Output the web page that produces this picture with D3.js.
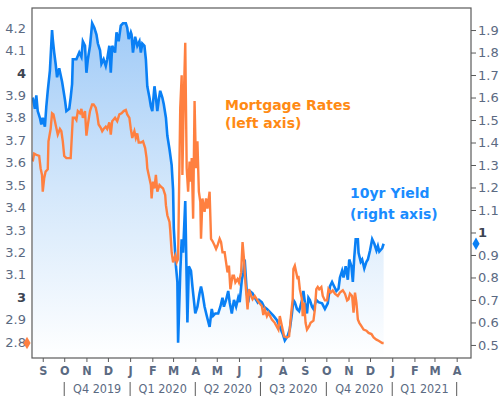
<!DOCTYPE html>
<html>
<head>
<meta charset="utf-8">
<script src="https://cdn.jsdelivr.net/npm/d3@7"></script>
<style>
  html, body { margin: 0; padding: 0; background: #fff; }
  svg { display: block; }
</style>
</head>
<body>
<div id="chart"></div>
<script>
// 10yr Treasury yield (right axis)
const yieldDates = [
  "2019-08-18","2019-08-21","2019-08-23","2019-08-25","2019-08-28","2019-08-30","2019-09-01","2019-09-04","2019-09-06","2019-09-08",
  "2019-09-11","2019-09-14","2019-09-15","2019-09-17","2019-09-19","2019-09-21","2019-09-24","2019-09-26","2019-09-28","2019-09-30",
  "2019-10-02","2019-10-04","2019-10-08","2019-10-10","2019-10-12","2019-10-13","2019-10-18","2019-10-22","2019-10-25","2019-10-27",
  "2019-10-30","2019-11-01","2019-11-03","2019-11-06","2019-11-09","2019-11-12","2019-11-15","2019-11-17","2019-11-20","2019-11-22",
  "2019-11-25","2019-11-28","2019-11-30","2019-12-03","2019-12-05","2019-12-07","2019-12-11","2019-12-13","2019-12-16","2019-12-19",
  "2019-12-22","2019-12-26","2019-12-28","2019-12-30","2020-01-02","2020-01-03","2020-01-05","2020-01-08","2020-01-11","2020-01-14",
  "2020-01-16","2020-01-18","2020-01-21","2020-01-23","2020-01-25","2020-01-28","2020-01-30","2020-02-01","2020-02-04","2020-02-06",
  "2020-02-08","2020-02-10","2020-02-12","2020-02-15","2020-02-17","2020-02-20","2020-02-22","2020-02-25","2020-02-28","2020-03-01",
  "2020-03-02","2020-03-05","2020-03-07","2020-03-08","2020-03-11","2020-03-13","2020-03-15","2020-03-18","2020-03-21","2020-03-23",
  "2020-03-26","2020-03-28","2020-03-30","2020-04-01","2020-04-04","2020-04-07","2020-04-09","2020-04-11","2020-04-14","2020-04-17",
  "2020-04-21","2020-04-24","2020-04-26","2020-04-29","2020-05-03","2020-05-06","2020-05-09","2020-05-11","2020-05-14","2020-05-17",
  "2020-05-19","2020-05-22","2020-05-25","2020-05-28","2020-05-31","2020-06-02","2020-06-05","2020-06-07","2020-06-09","2020-06-12",
  "2020-06-14","2020-06-16","2020-06-20","2020-06-23","2020-06-27","2020-06-29","2020-07-03","2020-07-06","2020-07-10","2020-07-13",
  "2020-07-19","2020-07-24","2020-07-28","2020-08-01","2020-08-04","2020-08-08","2020-08-11","2020-08-14","2020-08-16","2020-08-18",
  "2020-08-21","2020-08-24","2020-08-28","2020-08-30","2020-09-01","2020-09-04","2020-09-06","2020-09-08","2020-09-11","2020-09-13",
  "2020-09-17","2020-09-20","2020-09-25","2020-09-29","2020-10-03","2020-10-06","2020-10-09","2020-10-12","2020-10-15","2020-10-18",
  "2020-10-20","2020-10-23","2020-10-25","2020-10-28","2020-10-31","2020-11-02","2020-11-05","2020-11-07","2020-11-09","2020-11-11",
  "2020-11-14","2020-11-15","2020-11-18","2020-11-20","2020-11-23","2020-11-26","2020-11-28","2020-12-01","2020-12-04","2020-12-07",
  "2020-12-10","2020-12-12","2020-12-14","2020-12-18","2020-12-20"
];
const yieldValues = [
  1.60,1.55,1.61,1.54,1.51,1.48,1.51,1.47,1.56,1.63,
  1.72,1.90,1.86,1.80,1.75,1.69,1.73,1.70,1.67,1.63,
  1.59,1.54,1.55,1.60,1.66,1.77,1.77,1.80,1.78,1.85,
  1.83,1.71,1.77,1.83,1.93,1.91,1.88,1.84,1.81,1.75,
  1.77,1.74,1.77,1.83,1.71,1.83,1.80,1.89,1.85,1.92,
  1.93,1.93,1.91,1.86,1.89,1.88,1.80,1.87,1.83,1.85,
  1.80,1.84,1.83,1.77,1.65,1.60,1.56,1.54,1.65,1.60,
  1.54,1.59,1.63,1.60,1.57,1.51,1.43,1.37,1.30,1.19,
  1.02,0.85,0.78,0.51,0.82,0.97,0.91,1.14,0.60,0.85,
  0.83,0.76,0.70,0.64,0.67,0.73,0.76,0.73,0.67,0.63,
  0.58,0.66,0.63,0.64,0.64,0.67,0.71,0.67,0.70,0.74,
  0.69,0.64,0.70,0.67,0.71,0.69,0.79,0.82,0.88,0.73,
  0.69,0.74,0.73,0.71,0.69,0.70,0.69,0.67,0.66,0.65,
  0.63,0.61,0.58,0.55,0.52,0.54,0.57,0.64,0.70,0.69,
  0.66,0.65,0.70,0.74,0.69,0.64,0.71,0.70,0.67,0.66,
  0.70,0.69,0.685,0.66,0.685,0.76,0.78,0.76,0.74,0.75,
  0.80,0.83,0.80,0.85,0.79,0.88,0.85,0.78,0.89,0.97,
  0.97,0.91,0.87,0.88,0.84,0.87,0.88,0.92,0.97,0.95,
  0.92,0.94,0.915,0.93,0.95
];

// 30yr mortgage rates (left axis)
const mortgageDates = [
  "2019-08-18","2019-08-20","2019-08-23","2019-08-27","2019-08-29","2019-08-31","2019-09-01","2019-09-03","2019-09-05","2019-09-08",
  "2019-09-09","2019-09-12","2019-09-14","2019-09-16","2019-09-18","2019-09-20","2019-09-22","2019-09-25","2019-09-27","2019-09-29",
  "2019-10-01","2019-10-04","2019-10-08","2019-10-10","2019-10-12","2019-10-13","2019-10-16","2019-10-18","2019-10-20","2019-10-23",
  "2019-10-25","2019-10-27","2019-10-30","2019-11-01","2019-11-03","2019-11-06","2019-11-09","2019-11-11","2019-11-14","2019-11-16",
  "2019-11-18","2019-11-21","2019-11-23","2019-11-25","2019-11-28","2019-11-30","2019-12-03","2019-12-05","2019-12-07","2019-12-11",
  "2019-12-14","2019-12-17","2019-12-20","2019-12-23","2019-12-26","2019-12-28","2019-12-31","2020-01-02","2020-01-04","2020-01-07",
  "2020-01-09","2020-01-11","2020-01-13","2020-01-16","2020-01-19","2020-01-22","2020-01-24","2020-01-25","2020-01-27","2020-01-30",
  "2020-01-31","2020-02-02","2020-02-04","2020-02-06","2020-02-08","2020-02-11","2020-02-14","2020-02-16","2020-02-19","2020-02-20",
  "2020-02-22","2020-02-25","2020-02-26","2020-02-28","2020-03-01","2020-03-04","2020-03-06","2020-03-08","2020-03-11","2020-03-13",
  "2020-03-14","2020-03-16","2020-03-18","2020-03-20","2020-03-22","2020-03-24","2020-03-26","2020-03-27","2020-03-29","2020-03-31",
  "2020-04-02","2020-04-04","2020-04-06","2020-04-08","2020-04-09","2020-04-11","2020-04-14","2020-04-16","2020-04-18","2020-04-21",
  "2020-04-23","2020-04-25","2020-04-28","2020-04-30","2020-05-02","2020-05-05","2020-05-07","2020-05-09","2020-05-12","2020-05-14",
  "2020-05-16","2020-05-18","2020-05-20","2020-05-23","2020-05-25","2020-05-27","2020-05-30","2020-06-01","2020-06-04","2020-06-06",
  "2020-06-08","2020-06-10","2020-06-13","2020-06-15","2020-06-18","2020-06-20","2020-06-23","2020-06-26","2020-06-29","2020-07-03",
  "2020-07-05","2020-07-07","2020-07-10","2020-07-12","2020-07-17","2020-07-21","2020-07-26","2020-07-28","2020-07-31","2020-08-03",
  "2020-08-07","2020-08-10","2020-08-13","2020-08-15","2020-08-16","2020-08-18","2020-08-20","2020-08-22","2020-08-23","2020-08-25",
  "2020-08-28","2020-08-29","2020-08-31","2020-09-02","2020-09-04","2020-09-07","2020-09-09","2020-09-13","2020-09-15","2020-09-17",
  "2020-09-19","2020-09-21","2020-09-24","2020-09-26","2020-09-29","2020-10-02","2020-10-04","2020-10-07","2020-10-10","2020-10-13",
  "2020-10-17","2020-10-20","2020-10-24","2020-10-27","2020-10-30","2020-11-01","2020-11-03","2020-11-06","2020-11-08","2020-11-10",
  "2020-11-12","2020-11-14","2020-11-16","2020-11-19","2020-11-22","2020-11-26","2020-11-29","2020-12-03","2020-12-06","2020-12-10",
  "2020-12-13","2020-12-18","2020-12-20"
];
const mortgageValues = [
  3.605,3.64,3.635,3.63,3.575,3.545,3.47,3.53,3.56,3.57,
  3.695,3.75,3.82,3.815,3.785,3.755,3.725,3.75,3.74,3.695,
  3.63,3.62,3.62,3.62,3.74,3.80,3.80,3.79,3.83,3.82,
  3.84,3.80,3.83,3.72,3.77,3.83,3.86,3.86,3.845,3.815,
  3.77,3.755,3.74,3.75,3.76,3.75,3.78,3.725,3.785,3.80,
  3.785,3.815,3.82,3.83,3.835,3.815,3.80,3.75,3.71,3.74,
  3.71,3.73,3.69,3.69,3.695,3.665,3.62,3.575,3.545,3.50,
  3.44,3.515,3.485,3.545,3.47,3.50,3.49,3.485,3.455,3.41,
  3.365,3.335,3.30,3.20,3.155,3.185,3.155,3.17,3.845,3.99,
  3.545,3.89,4.135,3.575,3.47,3.605,3.515,3.62,3.35,3.875,
  3.575,3.695,3.47,3.425,3.26,3.44,3.38,3.44,3.395,3.47,
  3.26,3.25,3.23,3.215,3.23,3.26,3.245,3.20,3.20,3.155,
  3.11,3.14,3.035,3.095,3.095,3.065,3.08,3.065,3.11,3.245,
  3.17,3.065,2.945,3.035,3.005,2.99,3.005,2.99,2.975,2.96,
  2.92,2.945,2.915,2.93,2.90,2.885,2.855,2.915,2.87,2.825,
  2.82,2.825,2.93,2.99,3.125,3.14,3.11,3.08,3.095,3.035,
  2.99,2.915,2.975,2.885,2.855,2.87,2.885,2.895,2.945,3.035,
  3.045,3.035,3.045,3.005,2.985,2.985,3.035,3.02,3.03,3.015,
  3.005,3.02,3.03,3.015,2.985,2.99,3.015,3.005,2.93,3.02,
  2.975,2.90,2.885,2.87,2.855,2.85,2.84,2.835,2.82,2.81,
  2.805,2.795,2.795
];

const leftTicks = [2.8, 2.9, 3, 3.1, 3.2, 3.3, 3.4, 3.5, 3.6, 3.7, 3.8, 3.9, 4, 4.1, 4.2];
const rightTicks = [0.5, 0.6, 0.7, 0.8, 0.9, 1, 1.1, 1.2, 1.3, 1.4, 1.5, 1.6, 1.7, 1.8, 1.9];
const xStart = "2019-08-17";
const xEnd = "2021-04-21";
const mortgageLabel = ["Mortgage Rates", "(left axis)"];
const yieldLabel = ["10yr Yield", "(right axis)"];

const W = 502, H = 396;
const plot = { left: 32, right: 471, top: 8, bottom: 358 };
const BLUE = "#0a80f5", ORANGE = "#ff8040";
const AXIS_TEXT = "#5b6a82";
const parse = d3.timeParse("%Y-%m-%d");

const yieldData = yieldDates.map((d, i) => ({ date: parse(d), value: yieldValues[i] }));
const mortgageData = mortgageDates.map((d, i) => ({ date: parse(d), value: mortgageValues[i] }));

const x = d3.scaleTime().domain([parse(xStart), parse(xEnd)]).range([plot.left, plot.right]);
const yL = d3.scaleLinear().domain([2.728, 4.29]).range([plot.bottom, plot.top]);
const yR = d3.scaleLinear().domain([0.442, 1.998]).range([plot.bottom, plot.top]);

const svg = d3.select("#chart").append("svg")
    .attr("width", W).attr("height", H)
    .style("font-family", "'DejaVu Sans', sans-serif");

const defs = svg.append("defs");
const grad = defs.append("linearGradient")
    .attr("id", "blueFill")
    .attr("gradientUnits", "userSpaceOnUse")
    .attr("x1", 0).attr("x2", 0)
    .attr("y1", yR(1.95)).attr("y2", plot.bottom);
grad.append("stop").attr("offset", 0).attr("stop-color", "#9fcaf7");
grad.append("stop").attr("offset", 0.5).attr("stop-color", "#d3e7fb");
grad.append("stop").attr("offset", 1).attr("stop-color", "#ffffff");

defs.append("clipPath").attr("id", "plotClip")
  .append("rect")
    .attr("x", plot.left).attr("y", plot.top)
    .attr("width", plot.right - plot.left).attr("height", plot.bottom - plot.top);

const g = svg.append("g").attr("clip-path", "url(#plotClip)");

// area under the yield line
g.append("path")
    .datum(yieldData)
    .attr("fill", "url(#blueFill)")
    .attr("d", d3.area().x(d => x(d.date)).y0(plot.bottom).y1(d => yR(d.value)));

g.append("path")
    .datum(yieldData)
    .attr("fill", "none")
    .attr("stroke", BLUE)
    .attr("stroke-width", 2.6)
    .attr("stroke-linejoin", "miter")
    .attr("d", d3.line().x(d => x(d.date)).y(d => yR(d.value)));

g.append("path")
    .datum(mortgageData)
    .attr("fill", "none")
    .attr("stroke", ORANGE)
    .attr("stroke-width", 2.4)
    .attr("stroke-linejoin", "miter")
    .attr("d", d3.line().x(d => x(d.date)).y(d => yL(d.value)));

// frame
svg.append("rect")
    .attr("x", plot.left).attr("y", plot.top)
    .attr("width", plot.right - plot.left).attr("height", plot.bottom - plot.top)
    .attr("fill", "none").attr("stroke", "#5a5a5a").attr("stroke-width", 1.2);

// left axis (no tick marks)
const leftAxis = svg.append("g")
    .attr("transform", `translate(${plot.left},0)`)
    .call(d3.axisLeft(yL).tickValues(leftTicks).tickSize(0).tickPadding(6).tickFormat(d3.format("~g")));
leftAxis.select(".domain").remove();
leftAxis.selectAll("text")
    .attr("font-size", 13)
    .attr("font-family", "'DejaVu Sans', sans-serif")
    .attr("fill", d => Number.isInteger(d) ? "#3d4452" : AXIS_TEXT)
    .attr("font-weight", d => Number.isInteger(d) ? "bold" : "normal");

// right axis
const rightAxis = svg.append("g")
    .attr("transform", `translate(${plot.right},0)`)
    .call(d3.axisRight(yR).tickValues(rightTicks).tickSize(5).tickPadding(2).tickFormat(d3.format("~g")));
rightAxis.select(".domain").remove();
rightAxis.selectAll("line").attr("stroke", "#5a5a5a");
rightAxis.selectAll("text")
    .attr("font-size", 13)
    .attr("font-family", "'DejaVu Sans', sans-serif")
    .attr("fill", d => Number.isInteger(d) ? "#3d4452" : AXIS_TEXT)
    .attr("font-weight", d => Number.isInteger(d) ? "bold" : "normal");

// month axis
const months = d3.timeMonth.range(d3.timeMonth.ceil(parse(xStart)), parse(xEnd));
const monthAxis = svg.append("g")
    .attr("transform", `translate(0,${plot.bottom})`)
    .call(d3.axisBottom(x).tickValues(months).tickSize(4).tickPadding(4)
        .tickFormat(d => d3.timeFormat("%b")(d).charAt(0)));
monthAxis.select(".domain").remove();
monthAxis.selectAll("line").attr("stroke", "#5a5a5a");
monthAxis.selectAll("text")
    .attr("font-size", 12.5)
    .attr("font-weight", "bold")
    .attr("font-family", "'DejaVu Sans Condensed', 'DejaVu Sans', sans-serif")
    .attr("fill", AXIS_TEXT);

// quarter separators and labels
const quarterStarts = d3.timeMonth.every(3).range(d3.timeMonth.ceil(parse(xStart)), parse(xEnd));
svg.append("g").selectAll("line")
  .data(quarterStarts)
  .join("line")
    .attr("x1", d => x(d)).attr("x2", d => x(d))
    .attr("y1", 382).attr("y2", H)
    .attr("stroke", "#5a5a5a").attr("stroke-width", 1);

const quarterSpans = d3.pairs(quarterStarts);
svg.append("g").selectAll("text")
  .data(quarterSpans)
  .join("text")
    .attr("x", d => (x(d[0]) + x(d[1])) / 2)
    .attr("y", 393)
    .attr("text-anchor", "middle")
    .attr("font-size", 12.5)
    .attr("font-family", "'DejaVu Sans Condensed', 'DejaVu Sans', sans-serif")
    .attr("fill", AXIS_TEXT)
    .text(d => `Q${Math.floor(d[0].getMonth() / 3) + 1} ${d[0].getFullYear()}`);

// last-value markers on each axis
const lastM = mortgageData[mortgageData.length - 1];
const lastY = yieldData[yieldData.length - 1];
svg.append("path")
    .attr("d", d3.symbol(d3.symbolDiamond, 44)())
    .attr("transform", `translate(${plot.left - 5},${yL(lastM.value)})`)
    .attr("fill", ORANGE);
svg.append("path")
    .attr("d", d3.symbol(d3.symbolDiamond, 44)())
    .attr("transform", `translate(${plot.right + 5},${yR(lastY.value)})`)
    .attr("fill", BLUE);

// series labels
svg.append("text")
    .attr("x", 225).attr("y", 110)
    .attr("font-size", 14).attr("font-weight", "bold")
    .attr("fill", "#ff8a14")
  .selectAll("tspan")
  .data(mortgageLabel)
  .join("tspan")
    .attr("x", 225)
    .attr("dy", (d, i) => i ? 18 : 0)
    .text(d => d);

svg.append("text")
    .attr("x", 350).attr("y", 198)
    .attr("font-size", 14).attr("font-weight", "bold")
    .attr("fill", "#1a8cff")
  .selectAll("tspan")
  .data(yieldLabel)
  .join("tspan")
    .attr("x", 350)
    .attr("dy", (d, i) => i ? 21 : 0)
    .text(d => d);
</script>
</body>
</html>
